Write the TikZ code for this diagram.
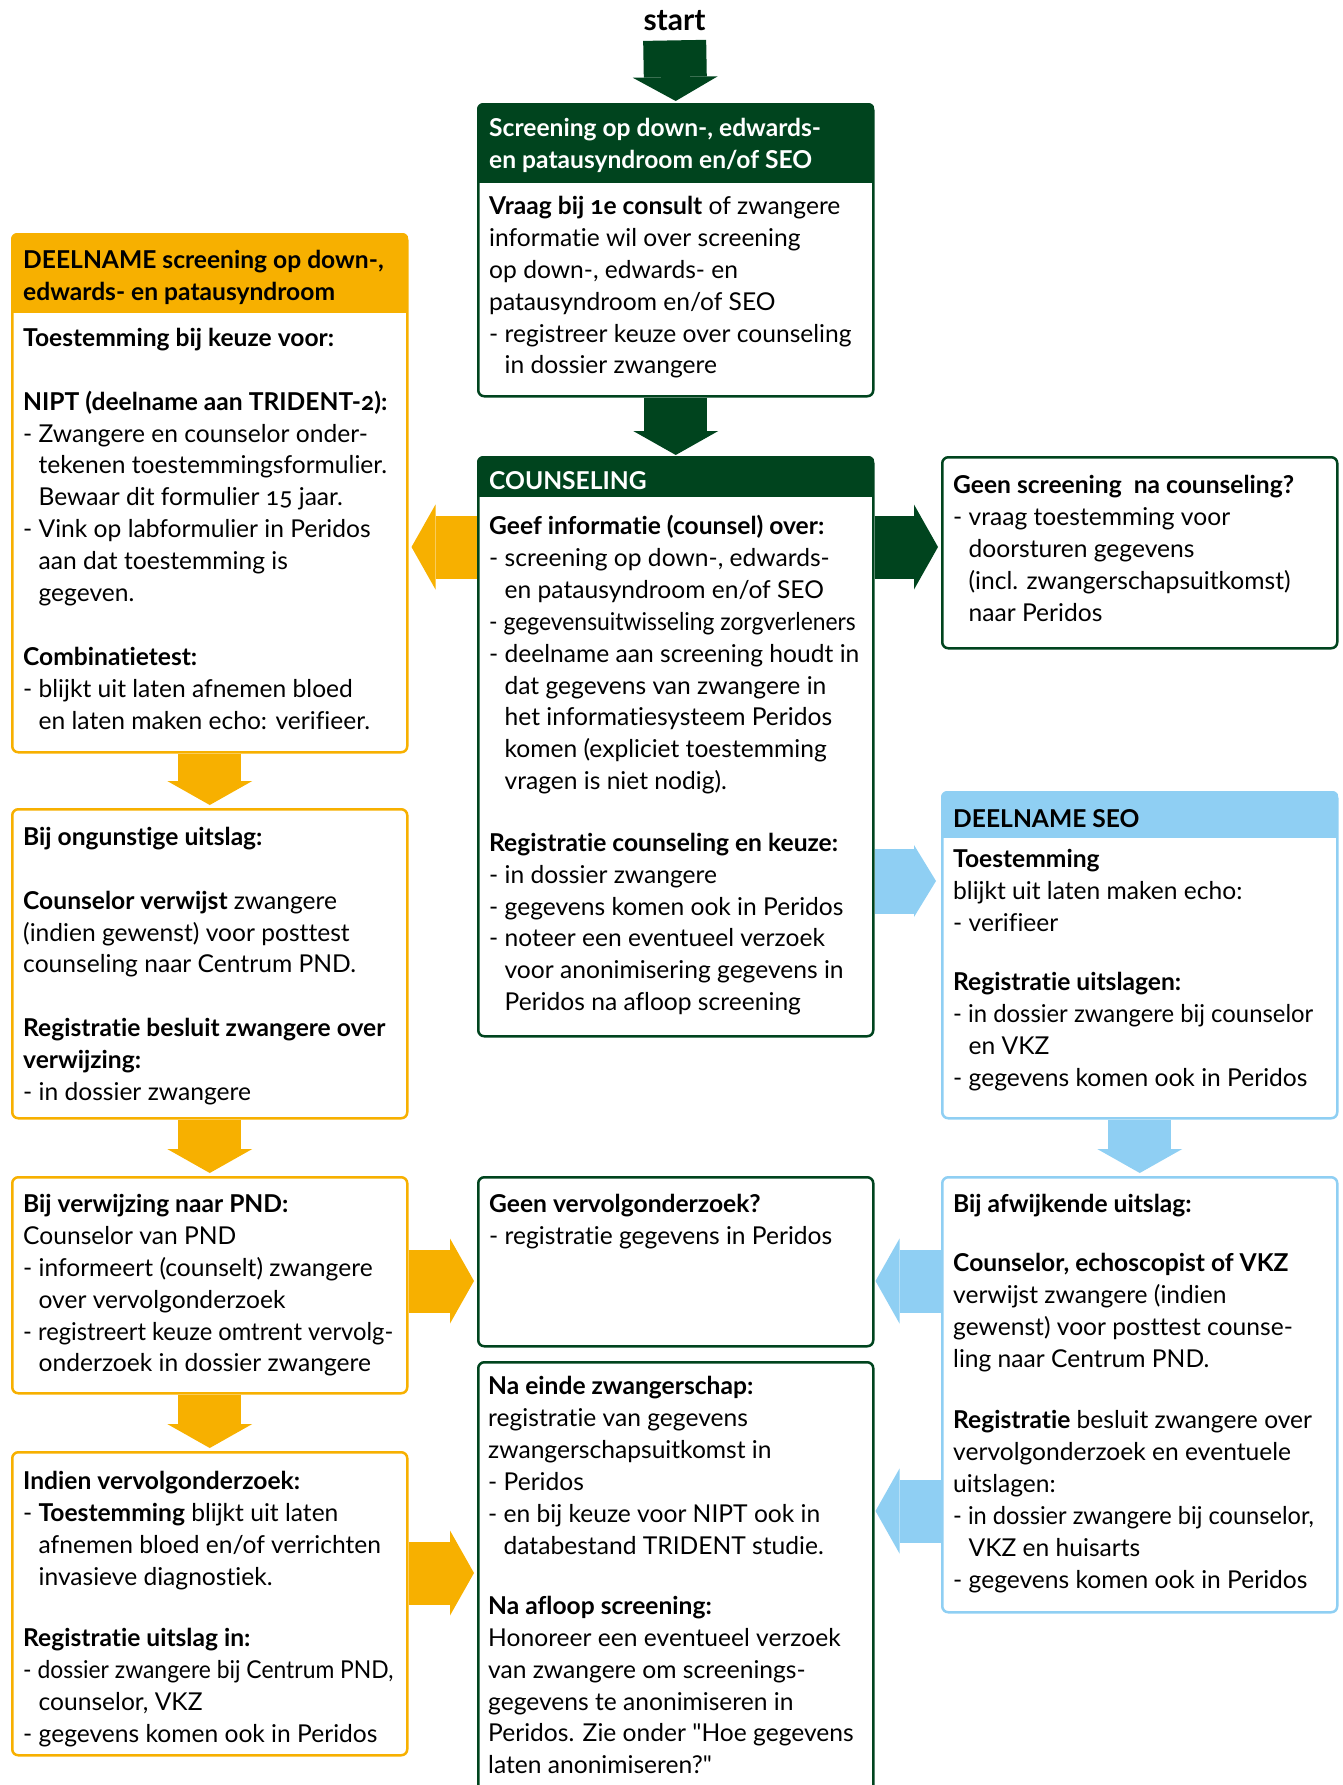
\documentclass[tikz,border=0pt]{standalone}
\usepackage{fontspec}
\setmainfont{Lato}[Numbers=OldStyle, Ligatures={TeXOff, NoCommon}]
\usetikzlibrary{arrows.meta, backgrounds}

\definecolor{dgreen}{RGB}{0,68,30}
\definecolor{dorange}{RGB}{247,176,0}
\definecolor{lblue}{RGB}{143,207,243}

\newcommand\ind{\hphantom{- }}
\newcommand\squeeze[2]{\scalebox{#1}[1]{#2}}
\newcommand\headbar[3]{%
  \begin{scope}
    \clip[rounded corners=6pt] (#1.north west) rectangle (#1.south east);
    \fill[#3] (#1.north west) rectangle ([yshift=-#2]#1.north east);
  \end{scope}}

\begin{document}
\begin{tikzpicture}[x=1pt, y=-1pt,
    box/.style={draw=#1, line width=2.5pt, rounded corners=6pt, fill=white,
      minimum width=395pt, inner sep=0pt, anchor=north west},
    txt/.style={anchor=north west, inner sep=0pt, align=left,
      font=\fontsize{24.6}{31.9}\selectfont},
    htxt/.style={txt, font=\fontsize{24.6}{31.9}\selectfont\bfseries},
    blok/.style={line width=63pt, color=#1, shorten >=3pt,
      -{Triangle[length=24pt, width=85pt, line width=0pt]}}]
        \useasboundingbox (0,0) rectangle (1342,1785);

        % boxes
        \node[box=dgreen, minimum height=292pt] (screen) at (477,103) {};
        \node[box=dgreen, minimum height=579pt] (couns) at (477,456) {};
        \node[box=dgreen, minimum height=191pt] (geenscr) at (941,456) {};
        \node[box=dorange, minimum height=518pt] (deelname) at (11,233) {};
        \node[box=dorange, minimum height=309pt] (ongunstig) at (11,808) {};
        \node[box=lblue, minimum height=326pt] (seo) at (941,791) {};
        \node[box=dorange, minimum height=216pt] (verwijzing) at (11,1176) {};
        \node[box=dgreen, minimum height=169pt] (geenvervolg) at (477,1176) {};
        \node[box=dgreen, minimum height=460pt] (naeinde) at (477,1361) {};
        \node[box=lblue, minimum height=435pt] (afwijkend) at (941,1176) {};
        \node[box=dorange, minimum height=303pt] (indien) at (11,1451) {};

        \headbar{screen}{80pt}{dgreen}
        \headbar{couns}{41pt}{dgreen}
        \headbar{deelname}{80pt}{dorange}
        \headbar{seo}{47pt}{lblue}

        % texts
        \node[htxt, text=white] (screenHead) at (489,118)
          {Screening op down-, edwards-\\en patausyndroom en/of SEO};
        \node[txt] (screenText) at (489,196)
          {\textbf{Vraag bij 1e consult} of zwangere\\informatie wil over screening\\
           op down-, edwards- en\\patausyndroom en/of SEO\\
           - registreer keuze over counseling\\\ind in dossier zwangere};
        \node[htxt, text=white] (counsHead) at (489,471) {COUNSELING};
        \node[txt] (counsText) at (489,515)
          {\textbf{Geef informatie (counsel) over:}\\
           - screening op down-, edwards-\\\ind en patausyndroom en/of SEO\\
           \squeeze{0.93}{- gegevensuitwisseling zorgverleners}\\
           - deelname aan screening houdt in\\\ind dat gegevens van zwangere in\\
           \ind het informatiesysteem Peridos\\\ind komen (expliciet toestemming\\
           \ind vragen is niet nodig).\\[29.6pt]
           \textbf{Registratie counseling en keuze:}\\
           - in dossier zwangere\\- gegevens komen ook in Peridos\\
           - noteer een eventueel verzoek\\\ind voor anonimisering gegevens in\\
           \ind Peridos na afloop screening};
        \node[txt] (geenscrText) at (953,475)
          {\textbf{Geen screening\ \ na counseling?}\\- vraag toestemming voor\\
           \ind doorsturen gegevens\\\ind (incl. zwangerschapsuitkomst)\\\ind naar Peridos};
        \node[htxt] (deelnameHead) at (23,250)
          {DEELNAME screening op down-,\\edwards- en patausyndroom};
        \node[txt] (deelnameText) at (23,328)
          {\textbf{Toestemming bij keuze voor:}\\[31.8pt]
           \textbf{NIPT (deelname aan TRIDENT-2):}\\
           - Zwangere en counselor onder-\\\ind tekenen toestemmingsformulier.\\
           \ind Bewaar dit formulier 15 jaar.\\- Vink op labformulier in Peridos\\
           \ind aan dat toestemming is\\\ind gegeven.\\[31.8pt]
           \textbf{Combinatietest:}\\- blijkt uit laten afnemen bloed\\
           \ind en laten maken echo: verifieer.};
        \node[txt] (ongunstigText) at (23,827)
          {\textbf{Bij ongunstige uitslag:}\\[31.8pt]
           \textbf{Counselor verwijst} zwangere\\(indien gewenst) voor posttest\\
           counseling naar Centrum PND.\\[31.8pt]
           \textbf{Registratie besluit zwangere over}\\\textbf{verwijzing:}\\
           - in dossier zwangere};
        \node[htxt] (seoHead) at (953,809) {DEELNAME SEO};
        \node[txt] (seoText) at (953,849)
          {\textbf{Toestemming}\\blijkt uit laten maken echo:\\- verifieer\\[27.3pt]
           \textbf{Registratie uitslagen:}\\\squeeze{0.97}{- in dossier zwangere bij counselor}\\
           \ind en VKZ\\- gegevens komen ook in Peridos};
        \node[txt] (verwijzingText) at (23,1194)
          {\textbf{Bij verwijzing naar PND:}\\Counselor van PND\\
           - informeert (counselt) zwangere\\\ind over vervolgonderzoek\\
           \squeeze{0.965}{- registreert keuze omtrent vervolg-}\\\ind onderzoek in dossier zwangere};
        \node[txt] (geenvervolgText) at (489,1194)
          {\textbf{Geen vervolgonderzoek?}\\- registratie gegevens in Peridos};
        \node[txt] (afwijkendText) at (953,1194)
          {\textbf{Bij afwijkende uitslag:}\\[27.3pt]
           \textbf{Counselor, echoscopist of VKZ}\\verwijst zwangere (indien\\
           gewenst) voor posttest counse-\\ling naar Centrum PND.\\[29.6pt]
           \textbf{Registratie} besluit zwangere over\\vervolgonderzoek en eventuele\\
           uitslagen:\\\squeeze{0.96}{- in dossier zwangere bij counselor,}\\\ind VKZ en huisarts\\
           - gegevens komen ook in Peridos};
        \node[txt] (indienText) at (23,1471)
          {\textbf{Indien vervolgonderzoek:}\\- \textbf{Toestemming} blijkt uit laten\\
           \ind afnemen bloed en/of verrichten\\\ind invasieve diagnostiek.\\[29.6pt]
           \textbf{Registratie uitslag in:}\\\squeeze{0.93}{- dossier zwangere bij Centrum PND,}\\
           \ind counselor, VKZ\\- gegevens komen ook in Peridos};
        \node[txt] (naeindeText) at (488,1376)
          {\textbf{Na einde zwangerschap:}\\registratie van gegevens\\
           zwangerschapsuitkomst in\\- Peridos\\- en bij keuze voor NIPT ook in\\
           \ind databestand TRIDENT studie.\\[28.4pt]
           \textbf{Na afloop screening:}\\Honoreer een eventueel verzoek\\
           van zwangere om screenings-\\gegevens te anonimiseren in\\
           Peridos. Zie onder "Hoe gegevens\\laten anonimiseren?"};

        \node[inner sep=0pt, font=\fontsize{30}{34}\selectfont\bfseries] (start) at (674.5,21) {start};
        \coordinate (lvlA) at (0,547);
        \coordinate (lvlB) at (0,881);
        \coordinate (lvlC) at (0,1281);
        \coordinate (lvlD) at (0,1511);
        \coordinate (lvlE) at (0,1573);

        % arrows
        \begin{scope}[on background layer]
        \draw[blok=dgreen, shorten <=9pt, shorten >=2pt] (start.south) -- (screen.north);
        \draw[blok=dgreen, shorten >=1pt] (screen.south) -- (couns.north);
        \draw[blok=dorange] (couns.west |- lvlA) -- (deelname.east |- lvlA);
        \draw[blok=dgreen] (couns.east |- lvlA) -- (geenscr.west |- lvlA);
        \draw[blok=lblue, line width=65pt, shorten >=5pt,
          -{Triangle[length=22pt, width=72pt, line width=0pt]}] (couns.east |- lvlB) -- (seo.west |- lvlB);
        \draw[blok=dorange] (deelname.south) -- (ongunstig.north);
        \draw[blok=dorange] (ongunstig.south) -- (verwijzing.north);
        \draw[blok=dorange] (verwijzing.south) -- (indien.north);
        \draw[blok=lblue] (seo.south) -- (afwijkend.north);
        \draw[blok=dorange] (verwijzing.east |- lvlC) -- (geenvervolg.west |- lvlC);
        \draw[blok=dorange] (indien.east |- lvlE) -- (naeinde.west |- lvlE);
        \draw[blok=lblue, shorten >=1pt] (afwijkend.west |- lvlC) -- (geenvervolg.east |- lvlC);
        \draw[blok=lblue, shorten >=1pt] (afwijkend.west |- lvlD) -- (naeinde.east |- lvlD);
        \end{scope}

\end{tikzpicture}
\end{document}
